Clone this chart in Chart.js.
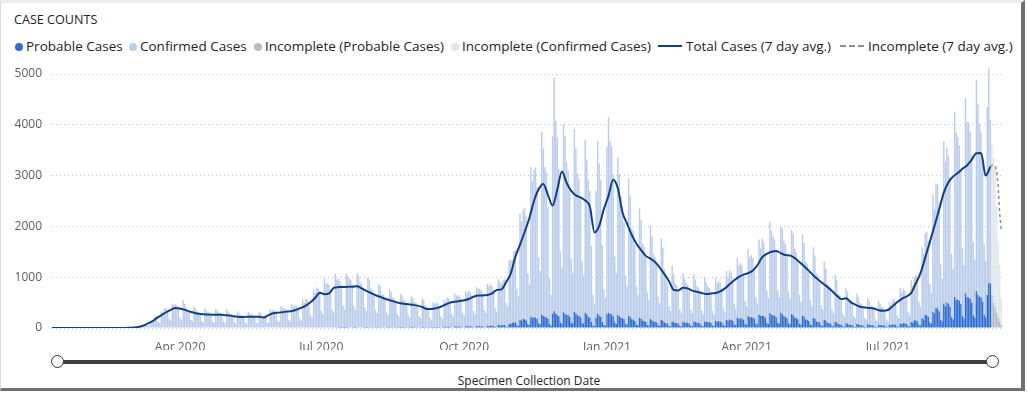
<!DOCTYPE html>
<html>
<head>
<meta charset="utf-8">
<script src="https://cdn.jsdelivr.net/npm/chart.js@4.4.0/dist/chart.umd.min.js"></script>
<style>
  html, body { margin: 0; padding: 0; background: #fff; }
  body { width: 1028px; height: 393px; position: relative; overflow: hidden; font-family: "Open Sans", "Noto Sans", sans-serif; }
  #frame { position: absolute; left: 0; top: 0; width: 1025px; height: 391px; box-sizing: border-box;
           border-top: 3px solid #ececec; border-left: 1px solid #dcdcdc; border-right: 4px solid #707070; border-bottom: 3px solid #707070; }
  #title { position: absolute; left: 14px; top: 11px; font-size: 12.6px; color: #252423; }
  #legend { position: absolute; left: 0; top: 37px; height: 20px; width: 1028px; font-size: 13.5px; color: #252423; }
  .item { position: absolute; top: 0; white-space: nowrap; line-height: 19px; }
  .dot { display: inline-block; width: 8px; height: 8px; border-radius: 50%; margin-right: 3px; vertical-align: 0px; }
  .ln { display: inline-block; width: 24px; height: 0; border-top: 2px solid; margin-right: 4px; vertical-align: 4px; }
  .dash { border-top-style: dashed; }
  canvas { position: absolute; left: 0; top: 0; }
  #track { position: absolute; left: 58px; top: 360px; width: 935px; height: 4px; background: #3f3f3f; }
  .knob { position: absolute; top: 355px; width: 11px; height: 11px; border-radius: 50%; background: #fff; border: 1.5px solid #333; }
  #axisTitle { position: absolute; left: 0; width: 1058px; top: 372px; text-align: center; font-size: 12px; color: #252423; }
</style>
</head>
<body>
<div id="frame"></div>
<div id="title">CASE COUNTS</div>
<div id="legend"></div>
<canvas id="chart" width="1028" height="350"></canvas>
<div id="track"></div>
<div class="knob" style="left:51px"></div>
<div class="knob" style="left:986px"></div>
<div id="axisTitle">Specimen Collection Date</div>
<script>
// Daily counts by specimen collection date
const confirmedStart = '2020-02-23';
const confirmedCases = [
  0, 0, 1, 0, 1, 3, 4,
  6, 8, 9, 5, 5, 28, 34,
  60, 70, 75, 40, 35, 140, 150,
  200, 230, 240, 120, 100, 330, 320,
  390, 400, 360, 180, 150, 480, 455,
  470, 450, 380, 200, 160, 550, 470,
  380, 350, 300, 160, 130, 430, 380,
  330, 310, 270, 140, 110, 390, 350,
  310, 300, 265, 130, 105, 375, 340,
  305, 290, 250, 130, 100, 365, 330,
  280, 260, 230, 115, 95, 330, 300,
  260, 250, 220, 110, 85, 315, 285,
  265, 255, 225, 110, 90, 320, 290,
  240, 250, 240, 120, 100, 370, 330,
  360, 340, 300, 150, 120, 430, 390,
  390, 370, 330, 160, 130, 470, 420,
  450, 430, 380, 190, 150, 560, 500,
  570, 560, 500, 250, 200, 760, 690,
  800, 780, 690, 340, 270, 980, 880,
  880, 850, 740, 370, 300, 1060, 960,
  960, 920, 840, 440, 360, 1070, 1020,
  970, 930, 850, 440, 360, 1060, 1020,
  890, 850, 780, 400, 330, 980, 940,
  770, 730, 670, 350, 290, 850, 810,
  660, 640, 580, 300, 250, 740, 700,
  580, 560, 510, 270, 220, 650, 620,
  540, 520, 470, 250, 200, 600, 570,
  500, 480, 440, 230, 190, 560, 530,
  430, 410, 380, 200, 160, 480, 460,
  480, 460, 420, 220, 180, 530, 500,
  580, 560, 510, 270, 220, 640, 610,
  620, 590, 540, 280, 230, 690, 650,
  700, 670, 610, 320, 260, 770, 740,
  740, 710, 650, 340, 280, 820, 780,
  820, 780, 710, 370, 310, 900, 860,
  820, 880, 900, 470, 400, 1250, 1250,
  1250, 1400, 1420, 720, 580, 2100, 1950,
  2150, 2200, 2050, 1000, 800, 2950, 2700,
  2900, 2950, 2600, 1300, 1050, 3600, 3300,
  2950, 2850, 2200, 900, 600, 3500, 4600,
  3800, 3500, 2900, 1400, 1100, 3700, 3500,
  3000, 2850, 2500, 1250, 1000, 3600, 3250,
  2800, 2700, 2350, 1200, 950, 3400, 3050,
  2700, 2500, 1500, 600, 450, 2500, 3400,
  3000, 2700, 1500, 700, 550, 3300, 3850,
  3400, 3300, 2800, 1300, 1000, 3100, 2800,
  2400, 2200, 1900, 950, 750, 2700, 2400,
  1800, 1750, 1500, 750, 600, 2150, 1950,
  1520, 1460, 1270, 640, 510, 1830, 1650,
  1330, 1280, 1110, 560, 440, 1600, 1440,
  1050, 950, 800, 380, 300, 1100, 950,
  780, 750, 650, 330, 260, 950, 850,
  790, 740, 650, 320, 260, 930, 840,
  720, 690, 600, 300, 240, 870, 780,
  700, 670, 580, 290, 230, 840, 750,
  790, 760, 660, 330, 260, 960, 860,
  970, 930, 810, 400, 320, 1170, 1050,
  1090, 1050, 910, 450, 360, 1320, 1180,
  1220, 1170, 1020, 510, 410, 1480, 1330,
  1520, 1460, 1270, 640, 510, 1800, 1650,
  1560, 1500, 1300, 650, 520, 1700, 1690,
  1490, 1430, 1240, 620, 500, 1650, 1600,
  1360, 1300, 1130, 570, 450, 1600, 1450,
  1150, 1100, 960, 480, 380, 1390, 1250,
  950, 910, 790, 400, 320, 1140, 1030,
  770, 740, 650, 320, 260, 930, 840,
  590, 570, 500, 250, 200, 700, 640,
  500, 480, 420, 210, 170, 600, 540,
  430, 410, 360, 180, 140, 510, 460,
  390, 370, 330, 160, 130, 470, 420,
  360, 350, 300, 150, 120, 440, 400,
  480, 500, 440, 220, 180, 700, 620,
  680, 650, 560, 280, 220, 820, 740,
  850, 900, 870, 450, 360, 1400, 1300,
  1600, 1650, 1500, 750, 600, 2300, 2050,
  2450, 2450, 2150, 1100, 850, 3200, 2850,
  3050, 2900, 2550, 1250, 1000, 3650, 3300,
  3200, 3050, 2650, 1350, 1050, 3850, 3450,
  3450, 3300, 2900, 1450, 1150, 4150, 3750,
  3400, 3250, 2850, 1400, 1100, 3700, 4230,
  3220
];

const probableStart = '2020-07-12';
const probableCases = [
  6, 6, 5, 3, 2, 7, 6,
  10, 9, 8, 4, 3, 12, 10,
  12, 12, 10, 5, 4, 14, 13,
  14, 14, 12, 6, 5, 17, 15,
  14, 14, 12, 6, 5, 17, 15,
  17, 16, 14, 7, 6, 20, 18,
  18, 17, 15, 8, 7, 22, 19,
  18, 17, 15, 8, 7, 22, 19,
  17, 16, 14, 7, 6, 20, 18,
  22, 21, 18, 9, 8, 26, 23,
  26, 25, 22, 11, 9, 32, 28,
  30, 29, 25, 13, 11, 36, 32,
  34, 32, 28, 14, 12, 41, 36,
  36, 35, 30, 15, 13, 44, 38,
  48, 46, 40, 20, 16, 58, 51,
  55, 58, 60, 30, 25, 85, 80,
  100, 110, 110, 55, 45, 160, 145,
  180, 170, 150, 75, 60, 220, 195,
  215, 205, 180, 90, 72, 260, 235,
  220, 210, 180, 80, 50, 280, 330,
  280, 260, 230, 110, 90, 310, 280,
  260, 250, 220, 110, 90, 320, 285,
  250, 240, 210, 105, 85, 300, 270,
  220, 200, 120, 50, 35, 200, 280,
  240, 220, 120, 60, 45, 270, 300,
  280, 270, 230, 110, 80, 260, 230,
  200, 190, 170, 85, 70, 240, 210,
  170, 160, 140, 70, 56, 200, 180,
  145, 140, 120, 60, 48, 175, 155,
  130, 125, 110, 55, 44, 160, 145,
  110, 100, 90, 45, 36, 130, 115,
  100, 98, 85, 42, 34, 123, 110,
  108, 104, 90, 45, 36, 130, 117,
  108, 104, 90, 45, 36, 130, 117,
  120, 115, 100, 50, 40, 145, 130,
  132, 126, 110, 55, 44, 160, 143,
  168, 161, 140, 70, 56, 203, 182,
  190, 185, 160, 80, 64, 230, 210,
  215, 205, 180, 90, 72, 260, 235,
  240, 230, 200, 100, 80, 290, 260,
  250, 240, 210, 105, 84, 300, 270,
  230, 220, 190, 95, 76, 275, 250,
  205, 195, 170, 85, 68, 245, 220,
  170, 160, 140, 70, 56, 200, 180,
  130, 125, 110, 55, 44, 160, 143,
  100, 98, 85, 42, 34, 123, 110,
  78, 75, 65, 32, 26, 94, 85,
  66, 63, 55, 28, 22, 80, 72,
  60, 58, 50, 25, 20, 72, 65,
  54, 52, 45, 22, 18, 65, 58,
  54, 52, 45, 22, 18, 65, 58,
  70, 70, 60, 30, 24, 87, 78,
  96, 92, 80, 40, 32, 116, 104,
  150, 150, 130, 65, 52, 190, 170,
  260, 250, 220, 110, 90, 320, 290,
  400, 380, 330, 165, 130, 480, 430,
  500, 480, 420, 210, 170, 610, 550,
  560, 540, 470, 235, 190, 680, 610,
  600, 575, 500, 250, 200, 725, 650,
  620, 600, 520, 260, 210, 650, 880,
  880
];

// Last week, still being reported
const incompleteStart = '2021-09-06';
const incompleteProbable = [650, 500, 420, 300, 200, 120, 60];
const incompleteConfirmed = [2950, 2850, 2730, 2100, 1500, 1120, 540];

// 7 day average, read every 3 days
const avgStart = '2020-01-05';
const avgStepDays = 3;
const avgTotal = [
  0, 0, 0, 0, 0, 0, 0, 0, 0, 0, 0, 0, 0, 0, 0, 0, 0,
  1, 4, 10, 20, 45, 85, 130, 195, 255, 310, 358, 395, 385,
  358, 325, 300, 280, 270, 264, 262, 262, 260, 250, 239, 226, 216,
  219, 222, 222, 222, 205, 255, 290, 302, 312, 323, 333, 362, 395,
  440, 505, 590, 695, 665, 680, 790, 805, 808, 810, 813, 822, 780,
  730, 688, 645, 612, 576, 547, 519, 491, 478, 467, 456, 440, 413,
  374, 374, 390, 418, 460, 500, 515, 530, 545, 570, 616, 638, 642,
  648, 680, 750, 760, 900, 1070, 1400, 1640, 1890, 2160, 2500, 2730, 2835,
  2620, 2410, 2720, 3080, 2860, 2700, 2610, 2570, 2510, 2390, 1880, 2010, 2340,
  2600, 2920, 2750, 2280, 2050, 1830, 1660, 1535, 1420, 1365, 1300, 1190, 1060,
  920, 750, 740, 790, 780, 735, 712, 690, 670, 680, 690, 720, 780,
  860, 940, 1005, 1050, 1080, 1130, 1240, 1395, 1460, 1500, 1515, 1475, 1435,
  1427, 1375, 1300, 1215, 1130, 1035, 955, 880, 810, 730, 640, 570, 585,
  510, 460, 418, 405, 395, 383, 350, 340, 354, 428, 510, 575, 620,
  690, 880, 1080, 1380, 1690, 2010, 2330, 2665, 2870, 2980, 3050, 3136, 3200,
  3315, 3440, 3445, 3000, 3175
];
const avgIncompleteStart = '2021-09-05';
const avgIncomplete = [3175, 3200, 3210, 3190, 3120, 2780, 2250, 1950];

// Axis
const axisFirstDay = '2020-01-10';
const axisLastDay = '2021-09-12';
const tickDates = ['2020-04-01', '2020-07-01', '2020-10-01', '2021-01-01', '2021-04-01', '2021-07-01'];
const tickLabels = ['Apr 2020', 'Jul 2020', 'Oct 2020', 'Jan 2021', 'Apr 2021', 'Jul 2021'];
const yTicks = [0, 1000, 2000, 3000, 4000, 5000];

const colors = {
  probable: '#2f6dd0',
  confirmed: '#bacdeb',
  incProbable: '#b7bbc4',
  incConfirmed: '#e2e5ea',
  avg: '#153f83',
  avgIncomplete: '#8e8e8e',
  text: '#605e5c',
  grid: '#c8c8c8'
};

function dayOf(s) {
  const p = s.split('-').map(Number);
  return Math.round((Date.UTC(p[0], p[1] - 1, p[2]) - Date.UTC(2020, 0, 1)) / 864e5);
}

function toPoints(start, values, step) {
  const d0 = dayOf(start);
  return values.map(function(v, i) { return { x: d0 + i * (step || 1), y: v }; });
}

const barStyle = { type: 'bar', stack: 'cases', categoryPercentage: 0.92, barPercentage: 1, borderWidth: 0 };

const datasets = [
  {
    type: 'line', label: 'Total Cases (7 day avg.)', stack: 'avg',
    data: toPoints(avgStart, avgTotal, avgStepDays),
    borderColor: colors.avg, borderWidth: 2, pointRadius: 0, cubicInterpolationMode: 'monotone', fill: false
  },
  {
    type: 'line', label: 'Incomplete (7 day avg.)', stack: 'avgInc',
    data: toPoints(avgIncompleteStart, avgIncomplete),
    borderColor: colors.avgIncomplete, borderWidth: 1.5, borderDash: [3, 3], pointRadius: 0, fill: false
  },
  Object.assign({ label: 'Probable Cases', data: toPoints(probableStart, probableCases), backgroundColor: colors.probable }, barStyle),
  Object.assign({ label: 'Confirmed Cases', data: toPoints(confirmedStart, confirmedCases), backgroundColor: colors.confirmed }, barStyle),
  Object.assign({ label: 'Incomplete (Probable Cases)', data: toPoints(incompleteStart, incompleteProbable), backgroundColor: colors.incProbable }, barStyle),
  Object.assign({ label: 'Incomplete (Confirmed Cases)', data: toPoints(incompleteStart, incompleteConfirmed), backgroundColor: colors.incConfirmed }, barStyle)
];

// Legend (HTML, same order as the report)
const legendOrder = [
  { label: 'Probable Cases', color: colors.probable, kind: 'dot', left: 15 },
  { label: 'Confirmed Cases', color: colors.confirmed, kind: 'dot', left: 129 },
  { label: 'Incomplete (Probable Cases)', color: colors.incProbable, kind: 'dot', left: 254 },
  { label: 'Incomplete (Confirmed Cases)', color: colors.incConfirmed, kind: 'dot', left: 451 },
  { label: 'Total Cases (7 day avg.)', color: colors.avg, kind: 'line', left: 658 },
  { label: 'Incomplete (7 day avg.)', color: colors.avgIncomplete, kind: 'dash', left: 840 }
];
const legend = document.getElementById('legend');
legendOrder.forEach(function(it) {
  const el = document.createElement('div');
  el.className = 'item';
  el.style.left = it.left + 'px';
  const mark = document.createElement('span');
  if (it.kind === 'dot') {
    mark.className = 'dot';
    mark.style.background = it.color;
  } else {
    mark.className = 'ln' + (it.kind === 'dash' ? ' dash' : '');
    mark.style.borderTopColor = it.color;
  }
  el.appendChild(mark);
  el.appendChild(document.createTextNode(it.label));
  legend.appendChild(el);
});

new Chart(document.getElementById('chart'), {
  type: 'bar',
  data: { datasets: datasets },
  options: {
    responsive: false,
    animation: false,
    layout: { padding: { top: 61, right: 26, bottom: 0, left: 0 } },
    plugins: { legend: { display: false }, tooltip: { enabled: false } },
    scales: {
      x: {
        type: 'linear',
        stacked: true,
        offset: false,
        min: dayOf(axisFirstDay) - 0.5,
        max: dayOf(axisLastDay) + 0.5,
        grid: { display: false, offset: false },
        border: { display: false },
        afterBuildTicks: function(scale) {
          scale.ticks = tickDates.map(function(d) { return { value: dayOf(d) }; });
        },
        afterFit: function(scale) { scale.height = 22; },
        ticks: {
          autoSkip: false,
          maxRotation: 0,
          padding: 4,
          color: colors.text,
          font: { family: '"Open Sans", sans-serif', size: 12 },
          callback: function(value) {
            const i = tickDates.findIndex(function(d) { return dayOf(d) === value; });
            return i >= 0 ? tickLabels[i] : '';
          }
        }
      },
      y: {
        stacked: true,
        min: 0,
        max: 5256,
        border: { display: false, dash: [1, 3] },
        grid: { color: colors.grid, drawTicks: false, lineWidth: 1 },
        afterBuildTicks: function(scale) {
          scale.ticks = yTicks.map(function(v) { return { value: v }; });
        },
        afterFit: function(scale) { scale.width = 52; },
        ticks: {
          padding: 10,
          color: colors.text,
          font: { family: '"Open Sans", sans-serif', size: 12 },
          callback: function(value) { return String(value); }
        }
      }
    }
  }
});
</script>
</body>
</html>
